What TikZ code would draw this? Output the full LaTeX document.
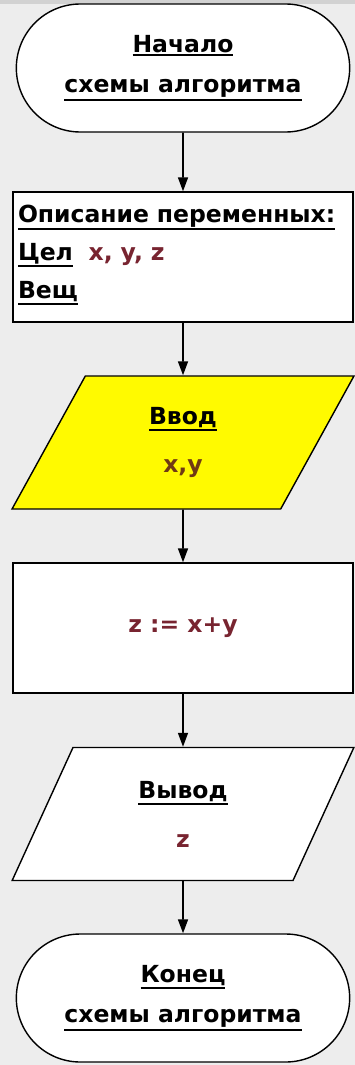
\documentclass[tikz,border=0pt]{standalone}
\usepackage{fontspec}
\setmainfont{DejaVu Sans}
\usetikzlibrary{arrows.meta,shapes.geometric,shapes.misc}
\definecolor{bgcol}{RGB}{237,237,237}
\definecolor{varred}{RGB}{120,36,48}
\definecolor{varbrown}{RGB}{112,58,20}
\definecolor{inyellow}{RGB}{255,250,0}
\newcommand{\ulw}[1]{\leavevmode\vtop{\hbox{#1}\kern1.5pt\hrule height 1.8pt}}

\begin{document}
\begin{tikzpicture}[x=1pt,y=-1pt,>={Triangle[width=10pt,length=14pt]},
  font=\fontsize{23.5}{40}\selectfont\bfseries,
  block/.style={draw,line width=1.4pt,fill=white,minimum width=340pt,minimum height=130pt,inner sep=0pt},
  term/.style={draw,line width=1.4pt,fill=white,rounded rectangle,minimum width=340pt,minimum height=128pt,align=center},
  io/.style={draw,line width=1.4pt,trapezium,trapezium left angle=70,trapezium right angle=110,
    trapezium stretches=true,minimum width=342pt,minimum height=133pt,align=center},
  flow/.style={->,line width=1.6pt}]
  \fill[bgcol] (0,0) rectangle (355,1065);
  \fill[gray!35] (0,0) rectangle (355,4);
  \useasboundingbox (0,0) rectangle (355,1065);
  % blocks of the scheme
  \node[term] (start) at (183,68) {\ulw{Начало}\\\ulw{схемы алгоритма}};
  \node[block,text width=330pt,align=left,font=\fontsize{23.5}{38}\selectfont\bfseries] (vars) at (183,257)
    {\ulw{Описание переменных:}\\\ulw{Цел}\ \ \textcolor{varred}{x, y, z}\\\ulw{Вещ}\strut};
  \node[io,fill=inyellow] (input) at (183,442.5) {\ulw{Ввод}\\[8pt]\textcolor{varbrown}{x,y}};
  \node[block] (calc) at (183,628) {\textcolor{varred}{z := x+y}};
  \node[io,fill=white] (output) at (183,814) {\ulw{Вывод}\\[9pt]\textcolor{varred}{z}};
  \node[term] (stop) at (183,998) {\ulw{Конец}\\\ulw{схемы алгоритма}};
  % connectors
  \foreach \a/\b in {start/vars,vars/input,input/calc,calc/output,output/stop}
    \draw[flow] (\a) -- (\b);
\end{tikzpicture}
\end{document}
